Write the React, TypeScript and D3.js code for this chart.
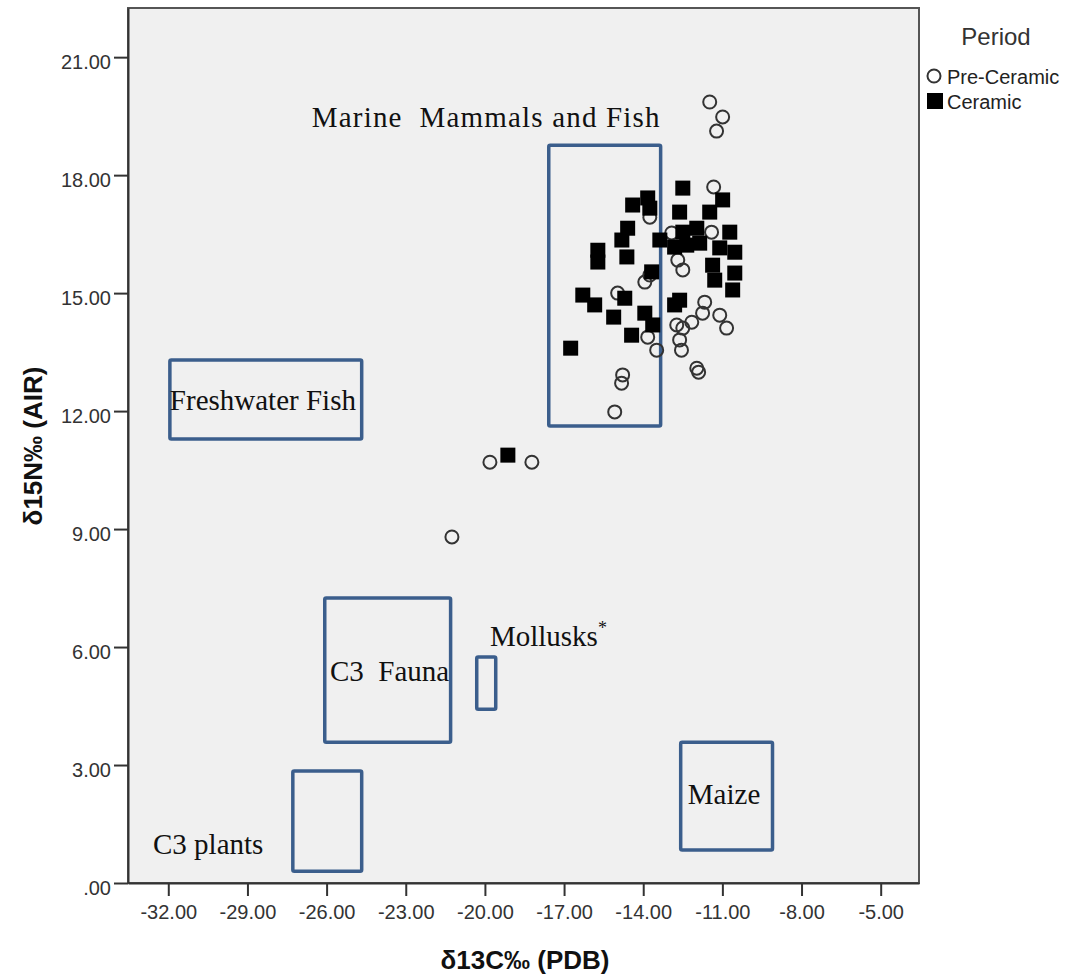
import React, { useEffect, useRef } from 'react'
import * as d3 from 'd3'

// δ13C / δ15N pairs
const preCeramic: [number, number][] = [
  [-11.48, 19.86], [-10.99, 19.48], [-11.22, 19.12], [-11.33, 17.70],
  [-13.75, 16.93], [-11.41, 16.55], [-12.92, 16.53], [-12.69, 15.84],
  [-12.50, 15.59], [-13.75, 15.46], [-13.94, 15.28], [-14.97, 15.00],
  [-13.83, 13.88], [-13.49, 13.55], [-14.78, 12.92], [-14.82, 12.71],
  [-15.08, 11.98], [-11.67, 14.77], [-11.75, 14.49], [-11.10, 14.44],
  [-10.84, 14.11], [-12.73, 14.19], [-12.50, 14.11], [-12.16, 14.26],
  [-12.62, 13.81], [-12.55, 13.55], [-11.97, 13.09], [-11.90, 12.99],
  [-19.81, 10.70], [-18.22, 10.70], [-21.25, 8.80]
]

const ceramic: [number, number][] = [
  [-12.50, 17.67], [-13.83, 17.42], [-14.40, 17.24], [-13.75, 17.16],
  [-10.99, 17.37], [-12.62, 17.06], [-11.48, 17.06], [-14.59, 16.65],
  [-14.81, 16.35], [-15.72, 16.09], [-15.72, 15.79], [-14.62, 15.92],
  [-13.37, 16.35], [-12.50, 16.55], [-11.97, 16.65], [-10.72, 16.55],
  [-12.81, 16.17], [-12.35, 16.22], [-11.86, 16.27], [-11.10, 16.15],
  [-10.53, 16.04], [-11.37, 15.71], [-11.29, 15.33], [-10.53, 15.51],
  [-10.61, 15.08], [-13.68, 15.54], [-16.29, 14.95], [-15.84, 14.70],
  [-15.12, 14.39], [-14.70, 14.87], [-14.44, 13.93], [-13.94, 14.49],
  [-13.64, 14.19], [-16.75, 13.60], [-12.81, 14.70], [-12.62, 14.82],
  [-19.13, 10.88]
]

// food source ranges: [c0, c1, n0, n1]
const sourceBoxes: [number, number, number, number][] = [
  [-17.58, -13.34, 11.62, 18.76],
  [-31.94, -24.67, 11.29, 13.30],
  [-26.07, -21.30, 3.58, 7.25],
  [-20.31, -19.59, 4.42, 5.75],
  [-27.28, -24.67, 0.30, 2.85],
  [-12.58, -9.10, 0.84, 3.58]
]

const sourceLabels = ['Marine  Mammals and Fish', 'Freshwater Fish', 'C3  Fauna', 'Mollusks', 'C3 plants', 'Maize']
// label anchor (start, baseline) in data units
const labelAnchors: [number, number][] = [
  [-26.56, 19.22], [-31.94, 12.03], [-25.87, 5.14], [-19.81, 6.03], [-32.58, 0.74], [-12.31, 2.01]
]

const xTicks = [-32, -29, -26, -23, -20, -17, -14, -11, -8, -5]
const yTicks = [0, 3, 6, 9, 12, 15, 18, 21]
const legendItems = ['Pre-Ceramic', 'Ceramic']

const App = () => {
  const ref = useRef<SVGSVGElement>(null)
  const width = 1073
  const height = 976

  useEffect(() => {
    const svg = d3.select(ref.current)
    svg.selectAll('*').remove()

    const x = d3.scaleLinear().domain([-33.527, -3.548]).range([128, 919])
    const y = d3.scaleLinear().domain([0, 22.25]).range([883, 8])
    const sans = 'Liberation Sans, Arial, sans-serif'
    const serif = 'Liberation Serif, Times New Roman, serif'
    // SPSS style: plain hyphen, no leading zero
    const fmt = (v: number) => (v === 0 ? '.00' : (v < 0 ? '-' : '') + Math.abs(v).toFixed(2))

    svg.append('rect')
      .attr('x', 128).attr('y', 8)
      .attr('width', 791).attr('height', 875)
      .attr('fill', '#f0f0f0')
      .attr('stroke', '#555').attr('stroke-width', 2)

    const gx = svg.append('g')
      .attr('transform', 'translate(0,883)')
      .call(d3.axisBottom(x).tickValues(xTicks).tickFormat(d => fmt(+d)).tickSize(13).tickSizeOuter(0))
    gx.select('.domain').attr('stroke', '#333').attr('stroke-width', 2)
    gx.selectAll('.tick line').attr('stroke', '#333').attr('stroke-width', 2)
    gx.selectAll('.tick text')
      .attr('y', 36).attr('dy', 0)
      .attr('font-family', sans).attr('font-size', 20).attr('fill', '#333')

    const gy = svg.append('g')
      .attr('transform', 'translate(128,0)')
      .call(d3.axisLeft(y).tickValues(yTicks).tickFormat(d => fmt(+d)).tickSize(14).tickSizeOuter(0))
    gy.select('.domain').attr('stroke', '#333').attr('stroke-width', 2)
    gy.selectAll('.tick line').attr('stroke', '#333').attr('stroke-width', 2)
    gy.selectAll('.tick text')
      .attr('x', -17).attr('dy', '0.55em')
      .attr('font-family', sans).attr('font-size', 20).attr('fill', '#333')

    // source boxes
    svg.append('g')
      .selectAll('rect')
      .data(sourceBoxes)
      .join('rect')
      .attr('x', d => x(d[0]))
      .attr('y', d => y(d[3]))
      .attr('width', d => x(d[1]) - x(d[0]))
      .attr('height', d => y(d[2]) - y(d[3]))
      .attr('fill', 'none')
      .attr('stroke', '#3b5e8c')
      .attr('stroke-width', 3.5)
      .attr('rx', 1.5)

    const lab = svg.append('g')
      .selectAll('text')
      .data(sourceLabels)
      .join('text')
      .attr('x', (d, i) => x(labelAnchors[i][0]))
      .attr('y', (d, i) => y(labelAnchors[i][1]))
      .attr('font-family', serif)
      .attr('font-size', 29)
      .attr('fill', '#111')
      .style('white-space', 'pre')
      .text(d => d)
    lab.filter((d, i) => i === 0)
      .attr('textLength', x(-13.38) - x(-26.56))
      .attr('lengthAdjust', 'spacing')
    lab.filter(d => d === 'Mollusks')
      .append('tspan')
      .attr('dy', -12)
      .attr('font-size', 18)
      .text('*')

    // points
    svg.append('g')
      .selectAll('circle')
      .data(preCeramic)
      .join('circle')
      .attr('cx', d => x(d[0]))
      .attr('cy', d => y(d[1]))
      .attr('r', 6.5)
      .attr('fill', 'none')
      .attr('stroke', '#333')
      .attr('stroke-width', 2)

    svg.append('g')
      .selectAll('rect')
      .data(ceramic)
      .join('rect')
      .attr('x', d => x(d[0]) - 7.5)
      .attr('y', d => y(d[1]) - 7.5)
      .attr('width', 15)
      .attr('height', 15)
      .attr('fill', '#000')

    // axis titles
    svg.append('text')
      .attr('x', 525).attr('y', 969)
      .attr('text-anchor', 'middle')
      .attr('font-family', sans).attr('font-weight', 'bold').attr('font-size', 26)
      .attr('fill', '#111')
      .text('δ13C‰ (PDB)')

    svg.append('text')
      .attr('transform', 'translate(42,446) rotate(-90)')
      .attr('text-anchor', 'middle')
      .attr('font-family', sans).attr('font-weight', 'bold').attr('font-size', 26)
      .attr('fill', '#111')
      .text('δ15N‰ (AIR)')

    // legend
    const lg = svg.append('g')
    lg.append('text')
      .attr('x', 996).attr('y', 45)
      .attr('text-anchor', 'middle')
      .attr('font-family', sans).attr('font-size', 24).attr('fill', '#333')
      .text('Period')
    lg.append('circle')
      .attr('cx', 934).attr('cy', 76).attr('r', 6.5)
      .attr('fill', 'none').attr('stroke', '#333').attr('stroke-width', 2)
    lg.append('rect')
      .attr('x', 927).attr('y', 93).attr('width', 16).attr('height', 16)
      .attr('fill', '#000')
    lg.selectAll('text.item')
      .data(legendItems)
      .join('text')
      .attr('class', 'item')
      .attr('x', 947)
      .attr('y', (d, i) => 84 + i * 25)
      .attr('font-family', sans).attr('font-size', 20).attr('fill', '#222')
      .text(d => d)
  }, [])

  return (
    <svg ref={ref} width={width} height={height}
      style={{ position: 'absolute', left: 0, top: 0, background: '#fff' }} />
  )
}

export default App
